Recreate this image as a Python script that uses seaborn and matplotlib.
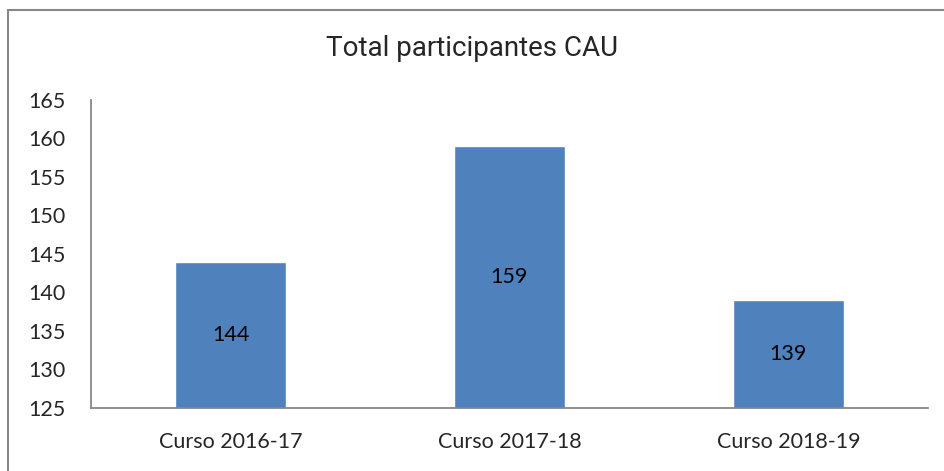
import matplotlib
matplotlib.use("Agg")
import matplotlib.pyplot as plt
import seaborn as sns
import pandas as pd
from matplotlib.patches import Rectangle

# Datos
cursos = ["Curso 2016-17", "Curso 2017-18", "Curso 2018-19"]
participantes = [144, 159, 139]
ticks_y = [125, 130, 135, 140, 145, 150, 155, 160, 165]

df = pd.DataFrame({"Curso": cursos, "Participantes": participantes})

sns.set_style("white")
plt.rcParams["font.family"] = ["Lato", "DejaVu Sans"]

fig = plt.figure(figsize=(9.44, 4.71), dpi=100)
ax = fig.add_axes([0.0964, 0.1338, 0.8866, 0.6539])

sns.barplot(data=df, x="Curso", y="Participantes", color="#4F81BD",
            saturation=1, width=0.4, ax=ax)

ax.set_ylim(125, 165)
ax.set_yticks(ticks_y)
ax.set_xlim(-0.5, 2.5)
ax.set_xlabel("")
ax.set_ylabel("")

# Etiquetas dentro de las barras
for i, v in enumerate(participantes):
    ax.text(i, (125 + v) / 2, str(v), ha="center", va="center",
            fontsize=15.5, color="black")

# Ejes estilo Excel
for lado in ["top", "right"]:
    ax.spines[lado].set_visible(False)
for lado in ["left", "bottom"]:
    ax.spines[lado].set_color("#878787")
    ax.spines[lado].set_linewidth(1.3)

ax.set_xticks([0, 1, 2])
ax.set_xticklabels(cursos, fontsize=15.5)
ax.tick_params(axis="x", length=0, pad=17)
ax.set_xticks([-0.5, 0.5, 1.5, 2.5], minor=True)
ax.tick_params(axis="x", which="minor", length=6, color="#878787", width=1.3,
               direction="out")
ax.tick_params(axis="y", length=6.5, color="#878787", width=1.3,
               direction="out", labelsize=15.5, pad=12)

fig.suptitle("Total participantes CAU", y=0.925, fontsize=20,
             family=["Roboto", "DejaVu Sans"])

# Borde del grafico
fig.patches.append(Rectangle((8 / 944, -0.1), 1.2, 1.1 - 10 / 471,
                             transform=fig.transFigure, fill=False,
                             edgecolor="#878787", linewidth=1.5))

plt.savefig("out.png", dpi=100)
